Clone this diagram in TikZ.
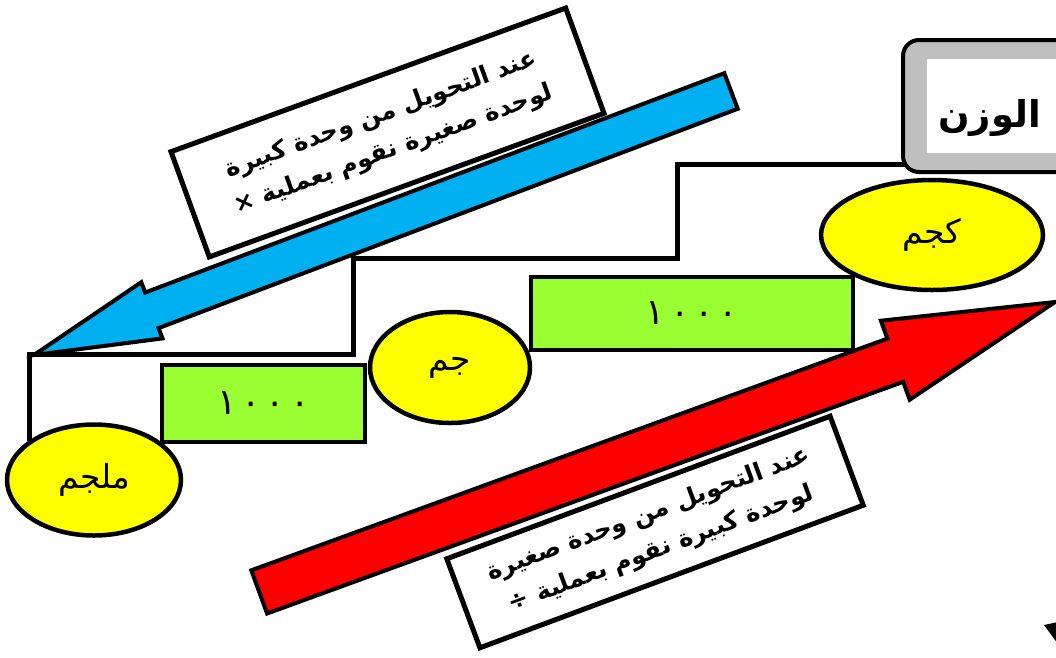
\documentclass[tikz,border=0pt]{standalone}
\usepackage{fontspec}
\setmainfont{Liberation Sans}
\newfontfamily\arabicfont[Script=Arabic]{DejaVu Sans}
\TeXXeTstate=1
\usetikzlibrary{shapes.geometric}
\definecolor{yel}{RGB}{255,255,0}
\definecolor{grn}{RGB}{153,255,51}
\definecolor{blu}{RGB}{0,176,240}
\definecolor{rd}{RGB}{255,0,0}
\definecolor{gry}{RGB}{191,191,191}
\begin{document}
\begin{tikzpicture}[x=1pt,y=-1pt,
  unit/.style={ellipse, draw=black, line width=4.5pt, fill=yel, inner sep=0pt,
    font=\arabicfont\fontsize{33}{35}\selectfont},
  factor/.style={rectangle, draw=black, line width=3.5pt, fill=grn, inner sep=0pt,
    font=\arabicfont\fontsize{36}{38}\selectfont},
  note/.style={rectangle, draw=black, line width=5pt, fill=white, inner sep=0pt,
    align=center, font=\arabicfont\bfseries\fontsize{24.5}{37}\selectfont},
  stair/.style={draw=black, line width=5pt},
  bigarrow/.style={draw=black, line width=4pt, line join=miter},
]
\useasboundingbox (0,0) rectangle (1056,657);
\clip (0,0) rectangle (1056,657);

% staircase
\coordinate (s0) at (29,441);
\coordinate (s6) at (906,164);
\draw[stair] (s0) -- (29,354) -- (353,354) -- (353,258) -- (677,258) -- (677,164) -- (s6);

% factor boxes
\node[factor, minimum width=203pt, minimum height=77pt] (f1) at (263.5,403.5)
  {١\hspace{5pt}٠\hspace{5pt}٠\hspace{5pt}٠};
\node[factor, minimum width=322pt, minimum height=73pt] (f2) at (692,313.5)
  {١\hspace{5pt}٠\hspace{5pt}٠\hspace{5pt}٠};

% units
\node[unit, minimum width=174pt, minimum height=111pt] (mg) at (94,480) {\beginR ملجم\endR};
\node[unit, minimum width=160pt, minimum height=111pt] (g) at (450,367.5) {\beginR جم\endR};
\node[unit, minimum width=222pt, minimum height=110pt] (kg) at (932,235) {\beginR كجم\endR};

% title box
\draw[line width=4pt, fill=gry, rounded corners=16pt] (903,40) rectangle (1140,172);
\node[fill=white, inner sep=0pt, minimum width=220pt, minimum height=94pt, anchor=north west] (titlebg) at (927,59) {};
\node[font=\arabicfont\bfseries\fontsize{37}{39}\selectfont, anchor=west, inner sep=0pt] (title) at (938,118) {\beginR الوزن\endR};

% upper note
\node[note, rotate=20, minimum width=420pt, minimum height=112pt] (n1) at (387.5,132.5)
  {\beginR عند التحويل من وحدة كبيرة\endR\\ \beginR لوحدة صغيرة نقوم بعملية ×\endR};

% blue arrow
\path[bigarrow, fill=blu] (34,355) -- (141.3,282.2) -- (145.2,292.5) -- (724.3,73.2)
  -- (737.7,108.8) -- (158.6,328.1) -- (162.5,338.4) -- cycle;

% lower note
\node[note, rotate=20.4, minimum width=409pt, minimum height=95pt] (n2) at (655,532)
  {\beginR عند التحويل من وحدة صغيرة\endR\\ \beginR لوحدة كبيرة نقوم بعملية ÷\endR};

% red arrow
\path[bigarrow, fill=rd] (1055,302) -- (880.9,320.7) -- (887.4,338.6) -- (251.3,570.3)
  -- (267.1,613.5) -- (903.2,381.8) -- (909.7,399.7) -- cycle;

% fragment at lower right corner
\fill[black] (1044,625) -- (1058,622) -- (1058,644) -- cycle;
\end{tikzpicture}
\end{document}
